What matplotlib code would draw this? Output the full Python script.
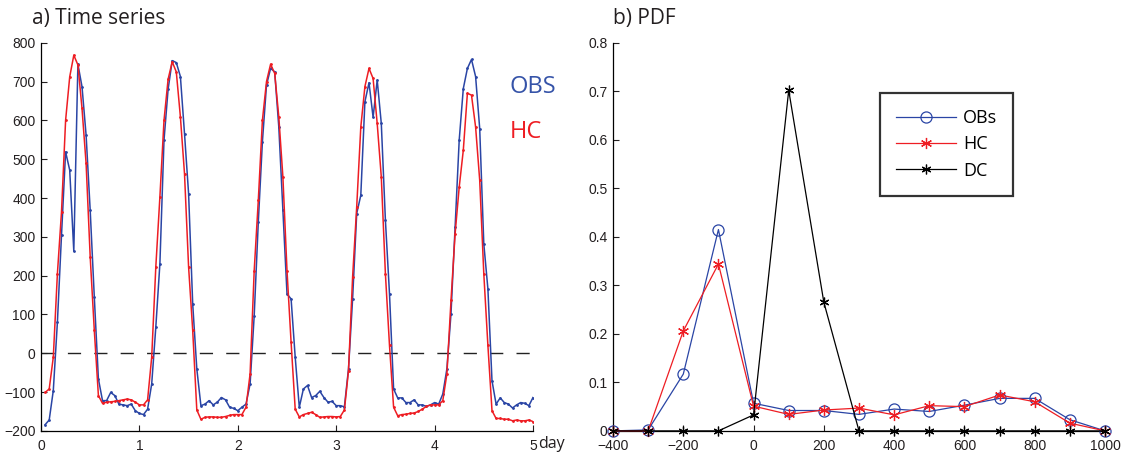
import numpy as np
import matplotlib
matplotlib.use("Agg")
import matplotlib.pyplot as plt

# hourly values, 5 days (t = 1/24 ... 5)
obs = [-184, -172, -96, 80, 304, 519, 472, 263, 745, 687, 562, 368, 145, -66, -122, -122, -101, -109, -131, -133, -135, -131, -148, -155,
       -158, -144, -79, 67, 231, 549, 680, 754, 749, 713, 566, 411, 127, -40, -135, -131, -122, -133, -126, -114, -120, -139, -142, -148,
       -139, -131, -79, 97, 338, 545, 691, 734, 725, 583, 368, 153, 140, -10, -139, -92, -83, -114, -109, -98, -114, -126, -124, -135,
       -135, -138, -40, 140, 360, 407, 648, 697, 608, 704, 592, 343, 153, -92, -115, -115, -127, -127, -120, -133, -133, -137, -133, -127,
       -131, -105, -40, 102, 325, 549, 682, 734, 757, 713, 579, 282, 166, -71, -131, -115, -127, -131, -141, -133, -127, -129, -135, -114]
hc = [-101, -92, -10, 205, 364, 600, 712, 768, 743, 631, 489, 248, 59, -109, -129, -126, -125, -124, -122, -120, -118, -120, -126, -133,
      -133, -120, -10, 222, 403, 600, 706, 751, 725, 609, 463, 222, 59, -146, -170, -165, -164, -164, -165, -165, -163, -160, -158, -158,
      -158, -139, -53, 213, 394, 600, 700, 745, 721, 609, 454, 213, 28, -144, -164, -158, -155, -152, -158, -165, -164, -163, -163, -164,
      -163, -146, -45, 196, 377, 583, 687, 734, 708, 592, 454, 205, 20, -139, -161, -158, -157, -155, -154, -150, -144, -137, -133, -133,
      -133, -122, -53, 136, 308, 428, 523, 670, 665, 583, 446, 205, 20, -148, -168, -168, -170, -170, -174, -172, -174, -174, -172, -176]
hours = np.arange(1, len(obs) + 1) / 24.0

# PDF panel
bins = [-400, -300, -200, -100, 0, 100, 200, 300, 400, 500, 600, 700, 800, 900, 1000]
pdf_obs = [0, 0.002, 0.117, 0.415, 0.057, 0.042, 0.042, 0.034, 0.045, 0.040, 0.053, 0.067, 0.067, 0.023, 0]
pdf_hc = [0, 0, 0.206, 0.344, 0.051, 0.034, 0.043, 0.047, 0.033, 0.052, 0.050, 0.074, 0.060, 0.016, 0]
pdf_dc = [0, 0, 0, 0, 0.033, 0.702, 0.265, 0, 0, 0, 0, 0, 0, 0, 0]

blue = "#2a45a5"
red = "#ee1d23"
tick_font = ["Liberation Sans", "DejaVu Sans"]
title_font = ["Open Sans", "DejaVu Sans"]
star = (6, 2, 0)

plt.rcParams["font.family"] = tick_font
plt.rcParams["axes.unicode_minus"] = True

fig = plt.figure(figsize=(11.27, 4.55), dpi=100)
ax1 = fig.add_axes([41 / 1127, 0.053, 492 / 1127, 0.853])
ax2 = fig.add_axes([613 / 1127, 0.053, 492 / 1127, 0.853])

for ax in (ax1, ax2):
    for s in ("top", "right"):
        ax.spines[s].set_visible(False)
    for s in ("left", "bottom"):
        ax.spines[s].set_linewidth(0.9)
    ax.tick_params(direction="in", length=4, width=0.8, labelsize=10, colors="#231f20")
    ax.tick_params(axis="x", pad=6)
    ax.tick_params(axis="y", pad=4)

# a) time series
ax1.plot([0, 5], [0, 0], color="#222222", lw=1.0, dashes=(9.5, 9.5))
ax1.plot(hours, obs, color=blue, lw=1.1, marker=".", ms=2)
ax1.plot(hours, hc, color=red, lw=1.1, marker=".", ms=2)
ax1.set_xlim(0, 5)
ax1.set_ylim(-200, 800)
ax1.set_xticks([0, 1, 2, 3, 4, 5])
ax1.set_yticks(range(-200, 801, 100))

fig.text(32 / 1127, 1 - 24 / 455, "a) Time series", fontsize=15, family=title_font,
         color="#231f20", va="baseline", ha="left")
fig.text(510 / 1127, 1 - 93 / 455, "OBS", fontsize=17, family=title_font, color="#3553a8", va="baseline")
fig.text(510 / 1127, 1 - 138 / 455, "HC", fontsize=17, family=title_font, color=red, va="baseline")
fig.text(538 / 1127, 1 - 448 / 455, "day", fontsize=11.5, family=title_font, color="#231f20", va="baseline")

# b) PDF
ax2.plot(bins, pdf_obs, color=blue, lw=0.9, marker="o", ms=8, mfc="none", mec=blue, mew=0.9, label="OBs", clip_on=False, zorder=3)
ax2.plot(bins, pdf_hc, color=red, lw=0.9, marker=star, ms=8, mec=red, mew=0.9, label="HC", clip_on=False, zorder=4)
ax2.plot(bins, pdf_dc, color="k", lw=0.9, marker=star, ms=7, mec="k", mew=0.9, label="DC", clip_on=False, zorder=5)
ax2.set_xlim(-400, 1000)
ax2.set_ylim(0, 0.8)
ax2.set_xticks(range(-400, 1001, 200))
ax2.set_yticks([0, 0.1, 0.2, 0.3, 0.4, 0.5, 0.6, 0.7, 0.8])
ax2.set_yticklabels(["0", "0.1", "0.2", "0.3", "0.4", "0.5", "0.6", "0.7", "0.8"])

fig.text(613 / 1127, 1 - 24 / 455, "b) PDF", fontsize=15, family=title_font,
         color="#231f20", va="baseline", ha="left")

leg = ax2.legend(loc="upper left", bbox_to_anchor=(880 / 1127, 1 - 93 / 455), bbox_transform=fig.transFigure,
                 prop={"family": title_font, "size": 13}, frameon=True, fancybox=False,
                 borderpad=0.9, handlelength=3.3, handletextpad=0.4, labelspacing=0.45, borderaxespad=0)
leg.get_frame().set_edgecolor("k")
leg.get_frame().set_linewidth(1.6)

fig.savefig("out.png", dpi=100)
